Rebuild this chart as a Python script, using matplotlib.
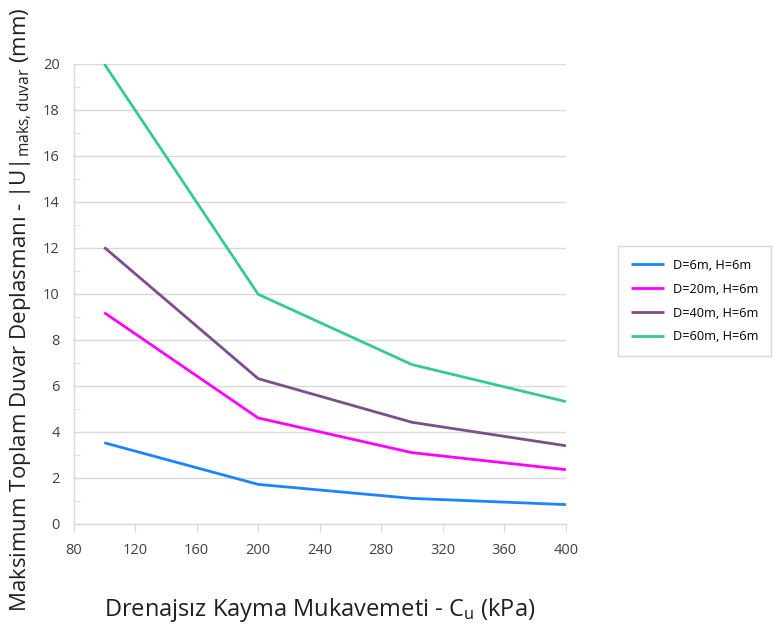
import matplotlib.pyplot as plt
from matplotlib.ticker import MultipleLocator

# undrained shear strength (kPa)
cu = [100, 200, 300, 400]

# max total wall displacement (mm) for each excavation case
disp_d6 = [3.52, 1.71, 1.10, 0.83]
disp_d20 = [9.18, 4.60, 3.09, 2.35]
disp_d40 = [12.02, 6.31, 4.41, 3.39]
disp_d60 = [20.0, 9.98, 6.92, 5.31]

labels = ['D=6m, H=6m', 'D=20m, H=6m', 'D=40m, H=6m', 'D=60m, H=6m']
colors = ['#1a85ff', '#ff00ff', '#7b4e8c', '#35c993']

plt.rcParams['font.family'] = ['Open Sans', 'DejaVu Sans']
plt.rcParams['mathtext.fontset'] = 'custom'
plt.rcParams['mathtext.rm'] = 'Open Sans'
plt.rcParams['mathtext.it'] = 'Open Sans'

fig = plt.figure(figsize=(7.73, 6.35), dpi=100)
ax = fig.add_axes([0.0951, 0.1753, 0.637, 0.724])

for ys, lab, col in zip([disp_d6, disp_d20, disp_d40, disp_d60], labels, colors):
    ax.plot(cu, ys, color=col, linewidth=2.0, label=lab, solid_capstyle='butt')

ax.set_xlim(80, 400)
ax.set_ylim(0, 20)
ax.xaxis.set_major_locator(MultipleLocator(40))
ax.yaxis.set_major_locator(MultipleLocator(2))
ax.yaxis.set_minor_locator(MultipleLocator(1))

ax.grid(axis='y', which='major', color='#d9d9d9', linewidth=1.0)
ax.set_axisbelow(True)
for side in ['top', 'right']:
    ax.spines[side].set_visible(False)
for side in ['left', 'bottom']:
    ax.spines[side].set_color('#d9d9d9')
    ax.spines[side].set_linewidth(1.0)

ax.tick_params(axis='x', which='major', direction='out', length=6, color='#d9d9d9',
               labelsize=10.5, labelcolor='#404040', pad=8)
ax.tick_params(axis='y', which='major', length=0, labelsize=10.5, labelcolor='#404040', pad=10)
ax.tick_params(axis='y', which='minor', direction='in', length=4, color='#d9d9d9')

ax.set_xlabel(r'Drenajsız Kayma Mukavemeti - C$_{\mathrm{u}}$ (kPa)', fontsize=17,
              color='#202020')
ax.xaxis.set_label_coords(0.5, -0.158)
ax.set_ylabel(r'Maksimum Toplam Duvar Deplasmanı - |U|$_{\mathrm{maks,duvar}}$ (mm)',
              fontsize=16, color='#202020')
ax.yaxis.set_label_coords(-0.08, 0.465)

leg = fig.legend(loc='upper left', bbox_to_anchor=(618 / 773, 1 - 246 / 635),
                 fontsize=9.2, frameon=True, fancybox=False, edgecolor='#d0d0d0',
                 handlelength=2.6, labelspacing=0.85, borderpad=1.0, handletextpad=0.7,
                 borderaxespad=0)
leg.get_frame().set_linewidth(1.0)

fig.savefig('out.png', dpi=100)
